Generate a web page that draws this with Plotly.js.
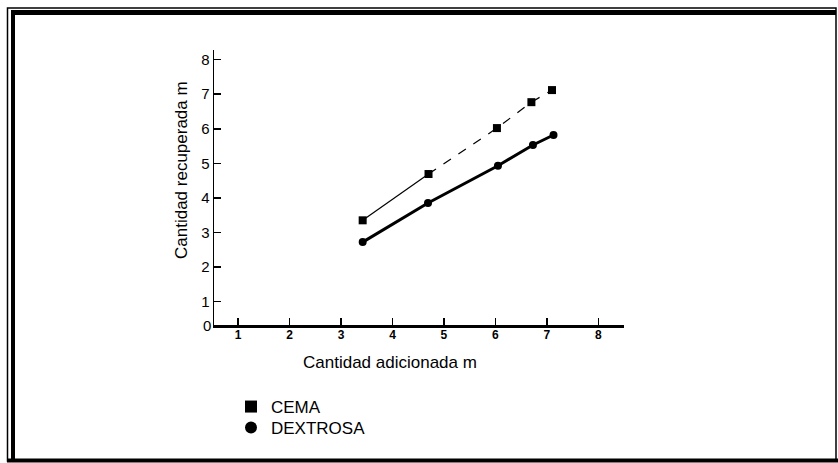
<!DOCTYPE html>
<html>
<head>
<meta charset="utf-8">
<script src="https://cdn.plot.ly/plotly-3.0.1.min.js"></script>
<style>html,body{margin:0;padding:0;background:#fff;}#chart{width:838px;height:463px;}</style>
</head>
<body>
<div id="chart"></div>
<script>
// Data
const seriesNames = ["CEMA", "DEXTROSA"];
const cemaX = [3.42, 4.70, 6.03, 6.70, 7.10];
const cemaY = [3.35, 4.69, 6.02, 6.77, 7.12];
const dexX = [3.42, 4.69, 6.05, 6.73, 7.13];
const dexY = [2.72, 3.85, 4.93, 5.53, 5.82];
const tickVals = [1, 2, 3, 4, 5, 6, 7, 8];
const tickText = ["1", "2", "3", "4", "5", "6", "7", "8"];
const xTitle = "Cantidad adicionada m";
const yTitle = "Cantidad recuperada m";
const originLabel = "0";

// Plot-area geometry (pixels) for paper-coordinate helpers
const L = 214, R = 624, T = 50, B = 325;
const px = v => (v - L) / (R - L);
const py = v => (B - v) / (B - T);
const FONT = "Liberation Sans, Arial, sans-serif";

const traces = [
  {x: cemaX.slice(0, 2), y: cemaY.slice(0, 2), mode: "lines", line: {color: "#000", width: 1.2}, showlegend: false, hoverinfo: "skip"},
  {x: cemaX.slice(1), y: cemaY.slice(1), mode: "lines", line: {color: "#000", width: 1.2, dash: "dash"}, showlegend: false, hoverinfo: "skip"},
  {x: dexX, y: dexY, mode: "lines", line: {color: "#000", width: 3}, showlegend: false, hoverinfo: "skip"},
  {x: cemaX, y: cemaY, mode: "markers", name: seriesNames[0], legend: "legend", marker: {symbol: "square", size: 8, color: "#000"}},
  {x: dexX, y: dexY, mode: "markers", name: seriesNames[1], legend: "legend2", marker: {symbol: "circle", size: 8, color: "#000"}}
];

const legendBase = {
  xanchor: "left", yanchor: "middle",
  font: {family: FONT, size: 17, color: "#000"},
  bgcolor: "rgba(0,0,0,0)", borderwidth: 0, itemsizing: "constant"
};

const layout = {
  width: 838, height: 463,
  margin: {l: L, r: 838 - R, t: T, b: 463 - B, pad: 0, autoexpand: false},
  paper_bgcolor: "#fff", plot_bgcolor: "#fff",
  font: {family: FONT, color: "#000"},
  xaxis: {
    range: [0.53, 8.5], tickvals: tickVals, ticktext: tickText,
    ticks: "inside", ticklen: 7, tickwidth: 1.5, tickcolor: "#000",
    showline: true, linewidth: 2.5, linecolor: "#000",
    showgrid: false, zeroline: false, automargin: false,
    ticklabelstandoff: -3,
    tickfont: {family: FONT, size: 12, color: "#000", weight: "bold"}
  },
  yaxis: {
    range: [0.32, 8.28], tickvals: tickVals, ticktext: tickText,
    ticks: "inside", ticklen: 7, tickwidth: 1.5, tickcolor: "#000",
    showline: true, linewidth: 1.5, linecolor: "#000",
    showgrid: false, zeroline: false, automargin: false,
    tickfont: {family: FONT, size: 15, color: "#000"}
  },
  showlegend: true,
  legend: Object.assign({}, legendBase, {x: px(231), y: py(407)}),
  legend2: Object.assign({}, legendBase, {x: px(231), y: py(428)}),
  annotations: [
    {text: xTitle, xref: "paper", yref: "paper", x: px(390), y: py(362), xanchor: "center", yanchor: "middle", showarrow: false, font: {family: FONT, size: 17, color: "#000"}},
    {text: yTitle, xref: "paper", yref: "paper", x: px(181), y: py(170), xanchor: "center", yanchor: "middle", textangle: -90, showarrow: false, font: {family: FONT, size: 17, color: "#000"}},
    {text: originLabel, xref: "paper", yref: "paper", x: px(207), y: py(325), xanchor: "center", yanchor: "middle", showarrow: false, font: {family: FONT, size: 15, color: "#000"}}
  ],
  shapes: [
    {type: "rect", xref: "paper", yref: "paper", x0: px(7.5), x1: px(836), y0: py(8), y1: py(461), line: {color: "#000", width: 1.5}},
    {type: "line", xref: "paper", yref: "paper", x0: px(13), x1: px(13), y0: py(12), y1: py(461), line: {color: "#000", width: 4}},
    {type: "line", xref: "paper", yref: "paper", x0: px(11), x1: px(836), y0: py(12.5), y1: py(12.5), line: {color: "#000", width: 5}},
    {type: "line", xref: "paper", yref: "paper", x0: px(7), x1: px(838), y0: py(460.5), y1: py(460.5), line: {color: "#000", width: 4}}
  ]
};

Plotly.newPlot("chart", traces, layout, {displayModeBar: false, staticPlot: true});
</script>
</body>
</html>
